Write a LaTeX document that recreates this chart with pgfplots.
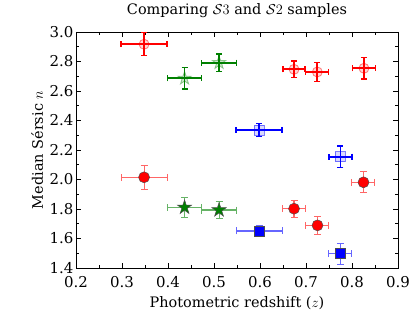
\documentclass[border=0pt]{standalone}
\usepackage{pgfplots}
\pgfplotsset{compat=1.18}
\usepackage{fontspec}
\setmainfont{DejaVu Serif}
\definecolor{mred}{RGB}{255,0,0}
\definecolor{mgreen}{RGB}{0,128,0}
\definecolor{mblue}{RGB}{0,0,255}
\pgfdeclareplotmark{fstar}{%
\pgfpathmoveto{\pgfpointpolar{90}{\pgfplotmarksize}}%
\pgfpathlineto{\pgfpointpolar{126}{0.382\pgfplotmarksize}}%
\pgfpathlineto{\pgfpointpolar{162}{\pgfplotmarksize}}%
\pgfpathlineto{\pgfpointpolar{198}{0.382\pgfplotmarksize}}%
\pgfpathlineto{\pgfpointpolar{234}{\pgfplotmarksize}}%
\pgfpathlineto{\pgfpointpolar{270}{0.382\pgfplotmarksize}}%
\pgfpathlineto{\pgfpointpolar{306}{\pgfplotmarksize}}%
\pgfpathlineto{\pgfpointpolar{342}{0.382\pgfplotmarksize}}%
\pgfpathlineto{\pgfpointpolar{18}{\pgfplotmarksize}}%
\pgfpathlineto{\pgfpointpolar{54}{0.382\pgfplotmarksize}}%
\pgfpathclose
\pgfusepathqfillstroke}
\pgfplotstableread{
x y ex ey
0.348 2.917 0.050 0.079
0.674 2.747 0.024 0.056
0.7246 2.729 0.025 0.065
0.826 2.754 0.025 0.072
}\redopen
\pgfplotstableread{
x y ex ey
0.348 2.015 0.050 0.080
0.674 1.802 0.025 0.059
0.725 1.689 0.025 0.060
0.825 1.981 0.025 0.071
}\redfill
\pgfplotstableread{
x y ex ey
0.436 2.686 0.037 0.073
0.511 2.792 0.038 0.059
}\greenopen
\pgfplotstableread{
x y ex ey
0.436 1.811 0.037 0.070
0.511 1.793 0.038 0.059
}\greenfill
\pgfplotstableread{
x y ex ey
0.598 2.336 0.050 0.045
0.775 2.155 0.025 0.072
}\blueopen
\pgfplotstableread{
x y ex ey
0.598 1.651 0.050 0.040
0.775 1.497 0.025 0.071
}\bluefill
\begin{document}
\begin{tikzpicture}
\useasboundingbox (-76bp,-44bp) rectangle (339bp,268bp);
\begin{axis}[
  name=ax, at={(0,0)}, anchor=south west,
  scale only axis, width=322bp, height=236bp,
  xmin=0.2, xmax=0.9, ymin=1.4, ymax=3.0,
  xtick={0.2,0.3,...,0.9}, ytick={1.4,1.6,...,3.0},
  minor x tick num=1, minor y tick num=1,
  xticklabel style={/pgf/number format/fixed, /pgf/number format/fixed zerofill, /pgf/number format/precision=1},
  yticklabel style={/pgf/number format/fixed, /pgf/number format/fixed zerofill, /pgf/number format/precision=1},
  /pgf/number format/assume math mode=true,
  tick align=inside, xtick pos=both, ytick pos=both,
  major tick length=5bp, minor tick length=3bp,
  every tick/.style={black, line width=0.9bp},
  axis line style={black, line width=0.9bp},
  ticklabel style={font=\fontsize{15}{17}\selectfont, inner sep=1bp},
  xticklabel style={yshift=-7bp},
  yticklabel style={xshift=-1.5bp},
  title={Comparing $\mathcal{S}3$ and $\mathcal{S}2$ samples},
  title style={at={(axis description cs:0.5,1.047)}, anchor=base, font=\fontsize{14.5}{16}\selectfont},
  xlabel={Photometric redshift ($z$)},
  xlabel style={at={(axis description cs:0.5,-0.167)}, anchor=base, font=\fontsize{14.5}{16}\selectfont},
  ylabel={Median S\'ersic $n$},
  ylabel style={at={(axis description cs:-0.1025,0.5)}, anchor=base, font=\fontsize{14.5}{16}\selectfont},
  clip=false,
]
% open series
\addplot[only marks, mark=*, mark size=5bp, mark options={draw=mred, draw opacity=0.5, fill=mred, fill opacity=0.15, line width=0.8bp},
  error bars/.cd, x dir=both, x explicit, y dir=both, y explicit,
  error bar style={mred, line width=1.8bp}, error mark options={rotate=90, mred, mark size=3bp, line width=1.2bp}]
  table[x=x, y=y, x error=ex, y error=ey] {\redopen};
\addplot[only marks, mark=fstar, mark size=7bp, mark options={draw=mgreen, draw opacity=0.4, fill=mgreen, fill opacity=0.2, line width=0.8bp},
  error bars/.cd, x dir=both, x explicit, y dir=both, y explicit,
  error bar style={mgreen, line width=1.8bp}, error mark options={rotate=90, mgreen, mark size=3bp, line width=1.2bp}]
  table[x=x, y=y, x error=ex, y error=ey] {\greenopen};
\addplot[only marks, mark=square*, mark size=5bp, mark options={draw=mblue, draw opacity=0.5, fill=mblue, fill opacity=0.15, line width=0.8bp},
  error bars/.cd, x dir=both, x explicit, y dir=both, y explicit,
  error bar style={mblue, line width=1.8bp}, error mark options={rotate=90, mblue, mark size=3bp, line width=1.2bp}]
  table[x=x, y=y, x error=ex, y error=ey] {\blueopen};
% filled series
\addplot[only marks, mark=*, mark size=5.5bp, mark options={draw=black!70, fill=mred, line width=0.5bp},
  error bars/.cd, x dir=both, x explicit, y dir=both, y explicit,
  error bar style={mred!60, line width=1.1bp}, error mark options={rotate=90, mred!60, mark size=3.5bp, line width=1bp}]
  table[x=x, y=y, x error=ex, y error=ey] {\redfill};
\addplot[only marks, mark=fstar, mark size=7.5bp, mark options={draw=black!70, fill=mgreen, line width=0.5bp},
  error bars/.cd, x dir=both, x explicit, y dir=both, y explicit,
  error bar style={mgreen!60, line width=1.1bp}, error mark options={rotate=90, mgreen!60, mark size=3.5bp, line width=1bp}]
  table[x=x, y=y, x error=ex, y error=ey] {\greenfill};
\addplot[only marks, mark=square*, mark size=5bp, mark options={draw=black!70, fill=mblue, line width=0.5bp},
  error bars/.cd, x dir=both, x explicit, y dir=both, y explicit,
  error bar style={mblue!60, line width=1.1bp}, error mark options={rotate=90, mblue!60, mark size=3.5bp, line width=1bp}]
  table[x=x, y=y, x error=ex, y error=ey] {\bluefill};
\end{axis}
\end{tikzpicture}
\end{document}
